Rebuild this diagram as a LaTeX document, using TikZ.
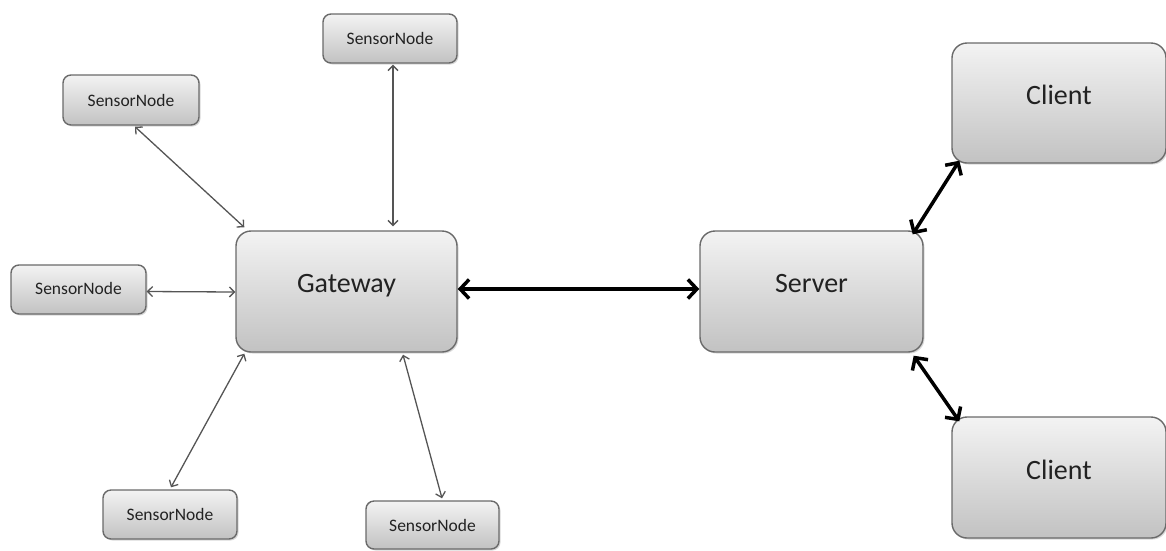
\documentclass[tikz,border=0pt]{standalone}
\usepackage{fontspec}
\setmainfont{Carlito}
\usetikzlibrary{arrows.meta,shadows}
\definecolor{boxline}{HTML}{6A6A6A}
\definecolor{boxtop}{HTML}{F3F3F3}
\definecolor{boxbot}{HTML}{C2C2C2}
\definecolor{txt}{HTML}{222222}
\definecolor{thinline}{HTML}{555555}
\newcommand{\uptext}[1]{\raisebox{16pt}{#1}}
\tikzset{
  basebox/.style={draw=boxline, line width=1.4pt, top color=boxtop, bottom color=boxbot,
    inner sep=0pt, text=txt,
    drop shadow={shadow xshift=1.5pt, shadow yshift=-1.5pt, opacity=0.3}},
  sensorbox/.style={basebox, rounded corners=8pt, minimum width=134pt, minimum height=49pt,
    font=\fontsize{17.5}{20}\selectfont},
  bigbox/.style={basebox, rounded corners=15pt, minimum width=221pt, minimum height=121pt,
    font=\fontsize{28}{33}\selectfont},
  thinarrow/.style={draw=thinline, line width=1.3pt,
    {Straight Barb[length=5pt,width=10pt]}-{Straight Barb[length=5pt,width=10pt]}},
  thickarrow/.style={draw=black, line width=3.5pt,
    {Straight Barb[length=9pt,width=19pt]}-{Straight Barb[length=9pt,width=19pt]}}
}
\begin{document}
\begin{tikzpicture}[x=1pt,y=-1pt]
\useasboundingbox (0,0) rectangle (1166,550);
\node[sensorbox] (s1) at (390,38.5) {SensorNode};
\node[sensorbox, minimum width=136pt, minimum height=50pt] (s2) at (131,100) {SensorNode};
\node[sensorbox, minimum width=135pt] (s3) at (78.5,289.5) {\raisebox{3pt}{SensorNode}};
\node[sensorbox] (s4) at (170,514.5) {SensorNode};
\node[sensorbox, minimum width=133pt, minimum height=48pt] (s5) at (432.5,525) {SensorNode};
\node[bigbox] (gw) at (346.5,291.5) {\uptext{Gateway}};
\node[bigbox, minimum width=223pt] (srv) at (811.5,291.5) {\uptext{Server}};
\node[bigbox, minimum width=214pt, minimum height=120pt] (c1) at (1059,103) {\uptext{Client}};
\node[bigbox, minimum width=214pt, minimum height=121pt] (c2) at (1059,477.5) {\uptext{Client}};

\draw[thinarrow] ([xshift=4pt,yshift=-1pt]s2.south) -- ([xshift=9pt,yshift=3pt]gw.north west);
\draw[thinarrow] ([xshift=3pt,yshift=-1pt]s1.south) -- ([xshift=46.5pt,yshift=4pt]gw.north);
\draw[thinarrow] ([yshift=-2pt]s3.east) -- ([yshift=-0.5pt]gw.west);
\draw[thinarrow] ([xshift=1pt,yshift=2pt]s4.north) -- ([xshift=9pt,yshift=-1pt]gw.south west);
\draw[thinarrow] ([xshift=9.5pt,yshift=2pt]s5.north) -- ([xshift=56.5pt,yshift=-2pt]gw.south);

\draw[thickarrow] ([yshift=2.5pt]gw.east) -- ([yshift=2.5pt]srv.west);
\draw[thickarrow] ([xshift=-11pt,yshift=-4pt]srv.north east) -- ([xshift=8pt,yshift=3pt]c1.south west);
\draw[thickarrow] ([xshift=-10pt,yshift=-3pt]srv.south east) -- ([xshift=8pt,yshift=-5pt]c2.north west);
\end{tikzpicture}
\end{document}
